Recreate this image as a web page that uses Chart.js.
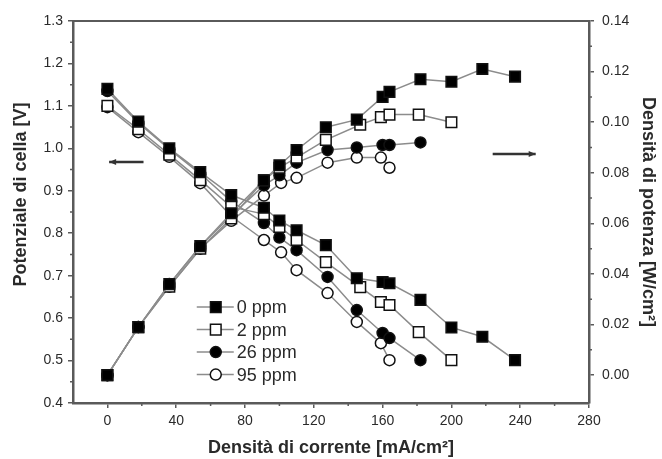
<!DOCTYPE html>
<html>
<head>
<meta charset="utf-8">
<script src="https://cdn.jsdelivr.net/npm/chart.js@4.4.0/dist/chart.umd.min.js"></script>
<style>
html, body { margin: 0; padding: 0; background: #fff; }
#wrap { width: 662px; height: 459px; }
</style>
</head>
<body>
<div id="wrap"><canvas id="fuelcell"></canvas></div>
<script>
// current density [mA/cm2], cell voltage [V], power density [W/cm2]
const j0 = [0, 18, 36, 54, 72, 91, 100, 110, 127, 145, 160, 164, 182, 200, 218, 237];
const v0 = [1.14, 1.063, 1.0, 0.944, 0.89, 0.86, 0.83, 0.807, 0.772, 0.694, 0.685, 0.682, 0.643, 0.578, 0.556, 0.501];
const p0 = [0.000, 0.019, 0.036, 0.051, 0.064, 0.077, 0.083, 0.089, 0.098, 0.101, 0.110, 0.112, 0.117, 0.116, 0.121, 0.118];

const j2 = [0, 18, 36, 54, 72, 91, 100, 110, 127, 147, 159, 164, 181, 200];
const v2 = [1.10, 1.045, 0.985, 0.925, 0.862, 0.845, 0.815, 0.784, 0.732, 0.673, 0.638, 0.631, 0.567, 0.501];
const p2 = [0.000, 0.019, 0.035, 0.050, 0.062, 0.077, 0.082, 0.086, 0.093, 0.099, 0.102, 0.103, 0.103, 0.100];

const j26 = [0, 18, 36, 54, 72, 91, 100, 110, 128, 145, 160, 164, 182];
const v26 = [1.135, 1.06, 0.998, 0.94, 0.875, 0.824, 0.79, 0.76, 0.697, 0.619, 0.565, 0.553, 0.501];
const p26 = [0.000, 0.019, 0.036, 0.051, 0.063, 0.075, 0.079, 0.084, 0.089, 0.090, 0.091, 0.091, 0.092];

const j95 = [0, 18, 36, 54, 72, 91, 101, 110, 128, 145, 159, 164];
const v95 = [1.097, 1.038, 0.98, 0.918, 0.84, 0.784, 0.755, 0.713, 0.659, 0.591, 0.541, 0.501];
const p95 = [0.000, 0.019, 0.035, 0.050, 0.061, 0.071, 0.076, 0.078, 0.084, 0.086, 0.086, 0.082];

const seriesLabels = ['0 ppm', '2 ppm', '26 ppm', '95 ppm'];
const xTicks = [0, 40, 80, 120, 160, 200, 240, 280];
const vTicks = [0.4, 0.5, 0.6, 0.7, 0.8, 0.9, 1.0, 1.1, 1.2, 1.3];
const pTicks = [0.00, 0.02, 0.04, 0.06, 0.08, 0.10, 0.12, 0.14];

const FONT = 'Liberation Sans, Arial, sans-serif';
const AXIS = '#5a5a5a';
const INK = '#2a2a2a';

const markers = [
    { pointStyle: 'rect', fill: '#000', r: 7.5 },
    { pointStyle: 'rect', fill: '#fff', r: 7.5 },
    { pointStyle: 'circle', fill: '#000', r: 5.5 },
    { pointStyle: 'circle', fill: '#fff', r: 5.5 },
];

function makeSet(i, xs, ys, axis) {
    const m = markers[i];
    return {
        label: seriesLabels[i],
        data: xs.map((x, k) => ({ x: x, y: ys[k] })),
        yAxisID: axis,
        borderColor: '#8c8c8c',
        borderWidth: 1.5,
        tension: 0,
        pointStyle: m.pointStyle,
        pointRadius: m.r,
        pointHoverRadius: m.r,
        pointBackgroundColor: m.fill,
        pointBorderColor: '#111',
        pointBorderWidth: 1.5
    };
}

const currents = [j0, j2, j26, j95];
const volts = [v0, v2, v26, v95];
const powers = [p0, p2, p26, p95];

const datasets = [];
for (let i = 0; i < 4; i++) {
    datasets.push(makeSet(i, currents[i], volts[i], 'y'));
    datasets.push(makeSet(i, currents[i], powers[i], 'y2'));
}

function fixTicks(values) {
    return scale => { scale.ticks = values.map(v => ({ value: v })); };
}

function drawArrow(ctx, x1, y, x2) {
    const dir = Math.sign(x2 - x1);
    ctx.beginPath();
    ctx.moveTo(x1, y);
    ctx.lineTo(x2, y);
    ctx.stroke();
    ctx.beginPath();
    ctx.moveTo(x2, y);
    ctx.lineTo(x2 - dir * 7, y - 3);
    ctx.lineTo(x2 - dir * 7, y + 3);
    ctx.closePath();
    ctx.fill();
}

const extras = {
    id: 'extras',
    afterDraw(chart) {
        const { ctx, chartArea: a, scales } = chart;
        const xs = scales.x, ys = scales.y, ps = scales.y2;
        ctx.save();
        // top frame line
        ctx.strokeStyle = AXIS;
        ctx.lineWidth = 2;
        ctx.beginPath();
        ctx.moveTo(a.left, a.top);
        ctx.lineTo(a.right, a.top);
        ctx.stroke();

        // minor ticks
        ctx.lineWidth = 1.5;
        ctx.beginPath();
        for (let v = 20; v < 280; v += 40) {
            const px = xs.getPixelForValue(v);
            ctx.moveTo(px, a.bottom); ctx.lineTo(px, a.bottom + 3);
        }
        for (let v = 0.45; v < 1.3; v += 0.1) {
            const py = ys.getPixelForValue(v);
            ctx.moveTo(a.left, py); ctx.lineTo(a.left - 3, py);
        }
        for (let v = 0.01; v < 0.14; v += 0.02) {
            const py = ps.getPixelForValue(v);
            ctx.moveTo(a.right, py); ctx.lineTo(a.right + 3, py);
        }
        ctx.stroke();

        // direction arrows
        ctx.strokeStyle = '#333';
        ctx.fillStyle = '#333';
        ctx.lineWidth = 2.5;
        drawArrow(ctx, xs.getPixelForValue(21), ys.getPixelForValue(0.968), xs.getPixelForValue(1));
        drawArrow(ctx, xs.getPixelForValue(224), ps.getPixelForValue(0.0874), xs.getPixelForValue(249));

        // legend inside the plot
        const lx = xs.getPixelForValue(63);
        let ly = ys.getPixelForValue(0.626);
        ctx.font = '18px ' + FONT;
        ctx.textBaseline = 'middle';
        for (let i = 0; i < 4; i++) {
            const m = markers[i];
            ctx.strokeStyle = '#8c8c8c';
            ctx.lineWidth = 1.5;
            ctx.beginPath();
            ctx.moveTo(lx - 19, ly); ctx.lineTo(lx + 18, ly);
            ctx.stroke();
            ctx.fillStyle = m.fill;
            ctx.strokeStyle = '#111';
            Chart.helpers.drawPoint(ctx, { pointStyle: m.pointStyle, radius: m.r, borderWidth: 1.5, rotation: 0 }, lx, ly);
            ctx.fillStyle = INK;
            ctx.fillText(seriesLabels[i], lx + 21, ly + 1);
            ly += 22.5;
        }
        ctx.restore();
    }
};

const ctx = document.getElementById('fuelcell').getContext('2d');
new Chart(ctx, {
    type: 'line',
    data: { datasets: datasets },
    options: {
        responsive: true,
        maintainAspectRatio: false,
        animation: false,
        layout: { padding: { top: 21, left: 0, right: 0, bottom: 0 } },
        plugins: {
            legend: { display: false },
            tooltip: { enabled: false }
        },
        scales: {
            x: {
                type: 'linear',
                min: -20,
                max: 280,
                afterBuildTicks: fixTicks(xTicks),
                afterFit: s => { s.height = 56; },
                grid: { drawOnChartArea: false, tickLength: 5, color: AXIS, lineWidth: 1.5 },
                border: { color: AXIS, width: 2.5 },
                ticks: { color: INK, font: { family: FONT, size: 14 }, padding: 5, autoSkip: false, maxRotation: 0 },
                title: {
                    display: true,
                    text: 'Densità di corrente [mA/cm²]',
                    color: INK,
                    font: { family: FONT, size: 18, weight: 'bold', lineHeight: 1 },
                    padding: { top: 0, bottom: 2 }
                }
            },
            y: {
                position: 'left',
                min: 0.4,
                max: 1.3,
                afterBuildTicks: fixTicks(vTicks),
                afterFit: s => { s.width = 73; },
                grid: { drawOnChartArea: false, tickLength: 5, color: AXIS, lineWidth: 1.5 },
                border: { color: AXIS, width: 2.5 },
                ticks: { color: INK, font: { family: FONT, size: 14 }, padding: 5, callback: v => v.toFixed(1) },
                title: {
                    display: true,
                    // leading spaces lift the title like in the original figure
                    text: '       Potenziale di cella [V]',
                    color: INK,
                    font: { family: FONT, size: 18, weight: 'bold', lineHeight: 1 },
                    padding: { top: 12, bottom: 0 }
                }
            },
            y2: {
                position: 'right',
                min: -0.011,
                max: 0.14,
                afterBuildTicks: fixTicks(pTicks),
                afterFit: s => { s.width = 73; },
                grid: { drawOnChartArea: false, tickLength: 5, color: AXIS, lineWidth: 1.5 },
                border: { color: AXIS, width: 2.5 },
                ticks: { color: INK, font: { family: FONT, size: 14 }, padding: 8, callback: v => v.toFixed(2) },
                title: {
                    display: true,
                    text: 'Densità di potenza [W/cm²]',
                    color: INK,
                    font: { family: FONT, size: 18, weight: 'bold', lineHeight: 1 },
                    padding: { top: 5, bottom: 0 }
                }
            }
        }
    },
    plugins: [extras]
});
</script>
</body>
</html>
